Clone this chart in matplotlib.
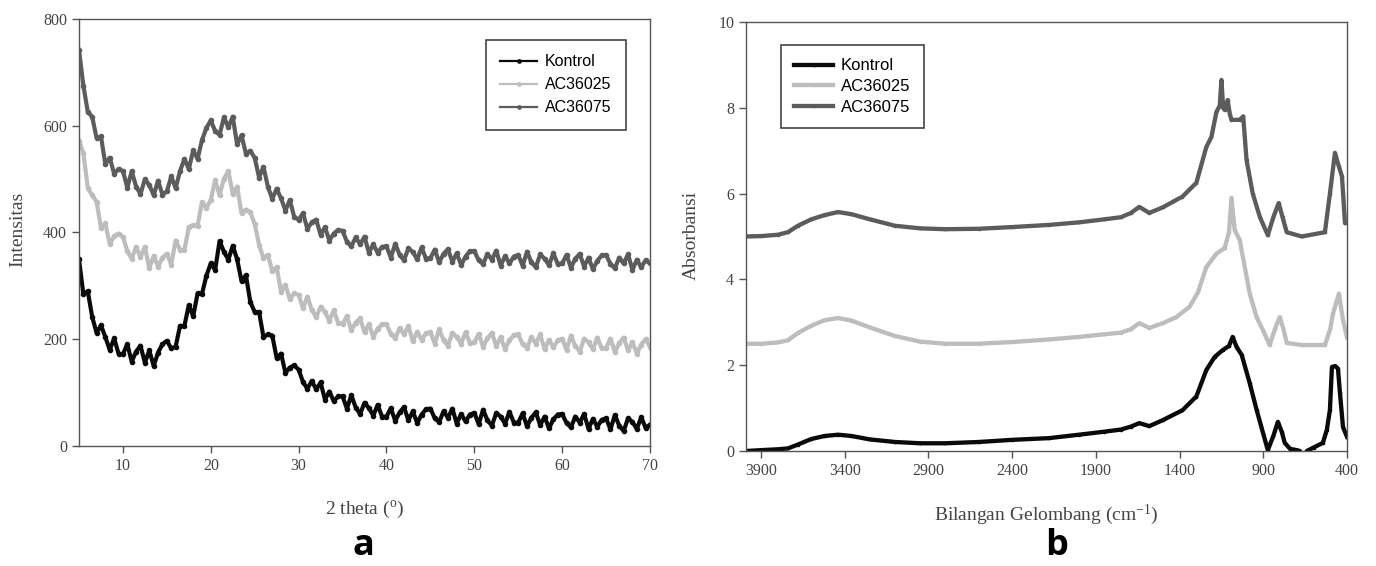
import numpy as np
import matplotlib
matplotlib.use("Agg")
import matplotlib.pyplot as plt

# ---------------- data: panel a (XRD), 0.5 degree steps from 5 to 70 ----------------
xrd_labels = ["Kontrol", "AC36025", "AC36075"]
xrd_kontrol = [
    350, 284, 290, 242, 212, 226, 204, 180, 202, 173,
    172, 191, 158, 177, 188, 156, 179, 150, 175, 191,
    197, 183, 186, 225, 225, 264, 243, 286, 285, 319,
    342, 330, 384, 364, 349, 375, 350, 309, 320, 270,
    251, 251, 204, 209, 207, 165, 173, 137, 147, 151,
    143, 120, 107, 122, 106, 119, 87, 102, 84, 93,
    93, 70, 95, 72, 60, 81, 71, 57, 77, 55,
    55, 71, 47, 63, 73, 48, 65, 43, 59, 69,
    70, 52, 45, 65, 53, 70, 42, 60, 46, 59,
    62, 41, 68, 48, 38, 62, 55, 42, 64, 44,
    44, 61, 37, 53, 63, 39, 55, 33, 50, 59,
    60, 43, 35, 55, 44, 60, 32, 51, 36, 49,
    52, 31, 58, 38, 28, 52, 45, 32, 54, 34,
    40,
]
xrd_ac36025 = [
    572, 549, 483, 470, 458, 409, 417, 378, 393, 398,
    392, 365, 351, 373, 354, 373, 333, 356, 336, 353,
    360, 340, 385, 368, 367, 410, 414, 413, 457, 446,
    461, 498, 470, 501, 515, 472, 486, 436, 443, 438,
    416, 377, 352, 358, 328, 335, 289, 302, 275, 286,
    283, 258, 280, 255, 241, 261, 251, 235, 254, 231,
    229, 243, 217, 231, 239, 213, 228, 204, 220, 228,
    228, 210, 202, 221, 209, 225, 196, 214, 199, 211,
    213, 192, 219, 198, 188, 212, 204, 192, 213, 193,
    194, 210, 186, 202, 212, 187, 204, 182, 198, 208,
    209, 191, 184, 204, 192, 209, 181, 199, 185, 198,
    201, 180, 207, 187, 177, 201, 194, 181, 203, 183,
    184, 201, 176, 193, 203, 179, 195, 173, 190, 200,
    186,
]
xrd_ac36075 = [
    742, 675, 626, 617, 577, 580, 528, 540, 510, 519,
    515, 484, 515, 486, 472, 500, 489, 470, 497, 471,
    477, 505, 483, 515, 538, 519, 554, 538, 573, 596,
    610, 590, 583, 616, 597, 617, 565, 582, 548, 553,
    540, 503, 523, 486, 463, 482, 464, 441, 461, 429,
    424, 436, 407, 419, 424, 396, 410, 385, 398, 405,
    403, 383, 374, 391, 378, 392, 362, 378, 362, 373,
    374, 353, 379, 358, 348, 371, 363, 350, 372, 351,
    352, 368, 344, 360, 369, 345, 361, 339, 355, 365,
    365, 348, 341, 360, 349, 366, 338, 356, 342, 355,
    358, 338, 364, 344, 335, 359, 351, 339, 361, 341,
    342, 358, 334, 351, 360, 336, 353, 331, 347, 357,
    358, 341, 333, 353, 342, 359, 330, 349, 335, 348,
    342,
]
xrd_xticks = [10, 20, 30, 40, 50, 60, 70]
xrd_yticks = [0, 200, 400, 600, 800]

# ---------------- data: panel b (FTIR) ----------------
ftir_labels = ["Kontrol", "AC36025", "AC36075"]
wn_kontrol = [3990, 3900, 3800, 3740, 3680, 3600, 3520, 3440, 3360, 3250, 3100, 2950,
              2800, 2600, 2400, 2180, 2000, 1850, 1750, 1690, 1641, 1581, 1500, 1383,
              1300, 1240, 1191, 1143, 1105, 1083, 1059, 1029, 981, 940, 900, 873,
              840, 813, 790, 772, 740, 700, 682, 660, 640, 600, 544, 520, 502, 490,
              470, 454, 442, 424, 400]
ab_kontrol = [0.0, 0.02, 0.04, 0.06, 0.15, 0.28, 0.35, 0.38, 0.35, 0.27, 0.21, 0.18,
              0.18, 0.21, 0.26, 0.30, 0.38, 0.45, 0.50, 0.57, 0.65, 0.58, 0.72, 0.95,
              1.27, 1.89, 2.19, 2.35, 2.45, 2.66, 2.42, 2.24, 1.58, 0.96, 0.40, 0.02,
              0.35, 0.68, 0.45, 0.19, 0.05, 0.02, 0.0, -0.3, 0.0, 0.08, 0.19, 0.50, 0.96, 1.96,
              1.98, 1.92, 1.35, 0.56, 0.33]
wn_ac36025 = [3990, 3900, 3800, 3740, 3680, 3600, 3520, 3440, 3360, 3250, 3100, 2950,
              2800, 2600, 2400, 2180, 2000, 1850, 1750, 1690, 1641, 1581, 1500, 1420,
              1341, 1290, 1240, 1180, 1131, 1105, 1090, 1071, 1041, 981, 940, 900, 862,
              830, 802, 780, 760, 670, 532, 500, 484, 448, 424, 400]
ab_ac36025 = [2.50, 2.50, 2.53, 2.58, 2.75, 2.92, 3.05, 3.10, 3.04, 2.88, 2.68, 2.55,
              2.50, 2.50, 2.54, 2.60, 2.66, 2.72, 2.76, 2.84, 2.98, 2.87, 2.98, 3.12,
              3.36, 3.70, 4.29, 4.60, 4.73, 5.10, 5.90, 5.15, 4.92, 3.67, 3.12, 2.80, 2.47,
              2.85, 3.12, 2.85, 2.52, 2.47, 2.47, 2.85, 3.20, 3.67, 3.05, 2.65]
wn_ac36075 = [3990, 3900, 3800, 3740, 3680, 3600, 3520, 3440, 3360, 3250, 3100, 2950,
              2800, 2600, 2400, 2180, 2000, 1850, 1750, 1690, 1641, 1581, 1500, 1383,
              1300, 1240, 1210, 1180, 1160, 1150, 1140, 1131, 1113, 1100, 1090, 1041, 1020,
              1000, 963, 920, 873, 840, 808, 785, 760, 670, 532, 502, 472, 450, 430,
              412, 400]
ab_ac36075 = [5.00, 5.01, 5.04, 5.10, 5.25, 5.40, 5.50, 5.57, 5.52, 5.40, 5.25, 5.19,
              5.17, 5.18, 5.22, 5.27, 5.33, 5.40, 5.45, 5.55, 5.69, 5.55, 5.68, 5.93,
              6.25, 7.09, 7.32, 7.90, 8.05, 8.65, 8.00, 7.95, 8.18, 7.85, 7.72, 7.72, 7.80,
              6.78, 6.00, 5.45, 5.03, 5.45, 5.78, 5.45, 5.10, 5.00, 5.10, 6.00, 6.95, 6.65, 6.40,
              5.31, 5.33]
ftir_xticks = [3900, 3400, 2900, 2400, 1900, 1400, 900, 400]
ftir_yticks = [0, 2, 4, 6, 8, 10]

colors = ["#0a0a0a", "#bdbdbd", "#5c5c5c"]

# ---------------- style ----------------
plt.rcParams["mathtext.fontset"] = "custom"
plt.rcParams["mathtext.rm"] = "Liberation Serif"
plt.rcParams["mathtext.it"] = "Liberation Serif:italic"
serif = "Liberation Serif"
axis_grey = "#555555"
text_grey = "#444444"

W, H = 1376, 566
fig = plt.figure(figsize=(W / 100, H / 100), dpi=100)


def px_axes(left, top, right, bottom):
    return fig.add_axes([left / W, 1 - bottom / H, (right - left) / W, (bottom - top) / H])


def style_axes(ax):
    for sp in ax.spines.values():
        sp.set_color(axis_grey)
        sp.set_linewidth(1.0)
    ax.tick_params(direction="out", length=5, width=1, colors=axis_grey,
                   labelcolor=text_grey, labelsize=11.5)
    for lab in ax.get_xticklabels() + ax.get_yticklabels():
        lab.set_fontfamily(serif)


# ---------------- panel a ----------------
axa = px_axes(79, 19, 650, 446)
for series, lab, col in zip([xrd_kontrol, xrd_ac36025, xrd_ac36075], xrd_labels, colors):
    x = np.linspace(5, 70, len(series))
    axa.plot(x, series, color=col, lw=3.0, marker="o", ms=3.0, label=lab)
axa.set_xlim(5, 70)
axa.set_ylim(0, 800)
axa.set_xticks(xrd_xticks)
axa.set_yticks(xrd_yticks)
style_axes(axa)
axa.set_xlabel(r"2 theta ($^{\mathrm{o}}$)", fontfamily=serif, fontsize=14, color=text_grey)
axa.set_ylabel("Intensitas", fontfamily=serif, fontsize=14, color=text_grey)
axa.xaxis.set_label_coords(0.5, -0.124)
axa.yaxis.set_label_coords(-0.093, 0.507)
leg = axa.legend(loc="upper left", bbox_to_anchor=((486 - 79) / 571, (446 - 40) / 427),
                 borderaxespad=0, fancybox=False, framealpha=1, edgecolor="#444444",
                 prop={"family": "Liberation Sans", "size": 11.5}, handlelength=2.3,
                 handletextpad=0.5, labelspacing=0.5, borderpad=0.9)
leg.get_frame().set_linewidth(1.2)
for line in leg.get_lines():
    line.set_linewidth(1.6)
    line.set_markersize(2.4)

# ---------------- panel b ----------------
axb = px_axes(746, 22, 1347, 451)
for wn, ab, lab, col in zip([wn_kontrol, wn_ac36025, wn_ac36075],
                            [ab_kontrol, ab_ac36025, ab_ac36075], ftir_labels, colors):
    axb.plot(wn, ab, color=col, lw=3.1, marker="o", ms=1.6, label=lab)
axb.set_xlim(3990, 400)
axb.set_ylim(0, 10)
axb.set_xticks(ftir_xticks)
axb.set_yticks(ftir_yticks)
style_axes(axb)
axb.set_xlabel(r"Bilangan Gelombang (cm$^{-1}$)", fontfamily=serif, fontsize=14, color=text_grey)
axb.set_ylabel("Absorbansi", fontfamily=serif, fontsize=14, color=text_grey)
axb.xaxis.set_label_coords(0.5, -0.121)
axb.yaxis.set_label_coords(-0.077, 0.503)
legb = axb.legend(loc="upper left", bbox_to_anchor=((781 - 746) / 601, (451 - 45) / 429),
                  borderaxespad=0, fancybox=False, framealpha=1, edgecolor="#444444",
                  prop={"family": "Liberation Sans", "size": 12}, handlelength=2.3,
                  handletextpad=0.5, labelspacing=0.35, borderpad=0.8)
legb.get_frame().set_linewidth(1.2)

# ---------------- panel letters ----------------
fig.text(363 / W, 0.003, "a", fontsize=26, fontweight="bold",
         fontfamily="Open Sans", ha="center", va="bottom")
fig.text(1057 / W, 0.003, "b", fontsize=26, fontweight="bold",
         fontfamily="Open Sans", ha="center", va="bottom")

fig.savefig("out.png", dpi=100)
